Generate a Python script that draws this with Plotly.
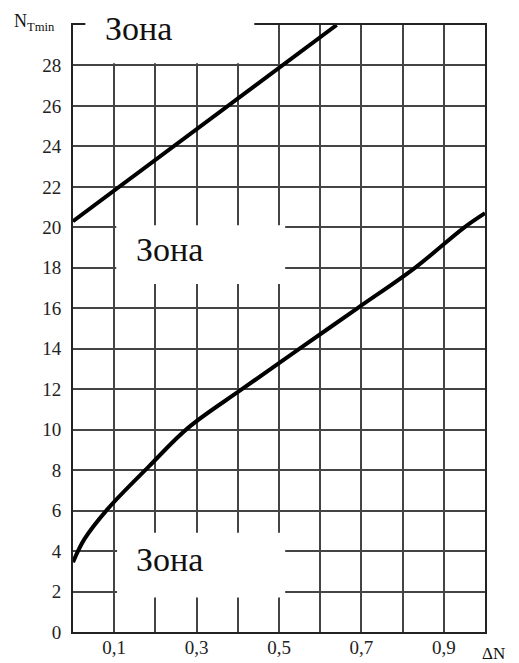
import plotly.graph_objects as go

# ---- data ----
upper_x = [0.0, 0.64]
upper_y = [20.3, 30.0]

lower_x = [0.0, 0.028, 0.085, 0.185, 0.28, 0.41, 0.55, 0.69, 0.83, 0.95, 1.0]
lower_y = [3.45, 4.6, 6.1, 8.2, 10.1, 12.0, 14.0, 16.0, 18.0, 20.0, 20.7]

x_tickvals = [0.1, 0.2, 0.3, 0.4, 0.5, 0.6, 0.7, 0.8, 0.9, 1.0]
x_ticktext = ["0,1", " ", "0,3", " ", "0,5", " ", "0,7", " ", "0,9", " "]
y_tickvals = list(range(0, 32, 2))
y_ticktext = [str(v) for v in range(0, 30, 2)] + [" "]

zone_label = "Зона"
y_title = "N<sub>Tmin</sub>"
x_title = "ΔN"

FONT = "Liberation Serif"

fig = go.Figure()
fig.add_trace(go.Scatter(x=upper_x, y=upper_y, mode="lines",
                         line=dict(color="black", width=4), showlegend=False))
fig.add_trace(go.Scatter(x=lower_x, y=lower_y, mode="lines",
                         line=dict(color="black", width=4, shape="spline", smoothing=1.0),
                         showlegend=False))

# white boxes behind the zone labels
fig.add_shape(type="rect", xref="x", yref="paper", x0=0.03, x1=0.44, y0=0.937, y1=1.06,
              fillcolor="white", line_width=0, layer="above")
fig.add_shape(type="rect", xref="x", yref="y", x0=0.105, x1=0.515, y0=17.2, y1=20.1,
              fillcolor="white", line_width=0, layer="above")
fig.add_shape(type="rect", xref="x", yref="y", x0=0.107, x1=0.515, y0=1.7, y1=4.9,
              fillcolor="white", line_width=0, layer="above")

common = dict(showarrow=False, xanchor="center", yanchor="middle")
fig.add_annotation(x=0.16, y=0.995, xref="x", yref="paper", text=zone_label,
                   font=dict(family=FONT, size=34, color="#111"), **common)
fig.add_annotation(x=0.233, y=18.9, xref="x", yref="y", text=zone_label,
                   font=dict(family=FONT, size=34, color="#111"), **common)
fig.add_annotation(x=0.233, y=3.6, xref="x", yref="y", text=zone_label,
                   font=dict(family=FONT, size=34, color="#111"), **common)
fig.add_annotation(x=-0.148, y=1.027, xref="paper", yref="paper", text=y_title,
                   showarrow=False, xanchor="left", yanchor="top",
                   font=dict(family=FONT, size=18, color="#111"))
fig.add_annotation(x=0.989, y=-0.035, xref="paper", yref="paper", text=x_title,
                   showarrow=False, xanchor="left", yanchor="middle",
                   font=dict(family=FONT, size=17, color="#111"))

fig.update_xaxes(range=[0, 1], tickvals=x_tickvals, ticktext=x_ticktext,
                 showgrid=True, gridcolor="#444", gridwidth=1.6,
                 showline=True, linecolor="#222", linewidth=2, mirror=True,
                 zeroline=False, ticks="", automargin=False, ticklabelstandoff=-3,
                 tickfont=dict(family=FONT, size=19, color="#222"))
fig.update_yaxes(range=[0, 30], tickvals=y_tickvals, ticktext=y_ticktext,
                 showgrid=True, gridcolor="#444", gridwidth=1.6,
                 showline=True, linecolor="#222", linewidth=2, mirror=True,
                 zeroline=False, ticks="outside", ticklen=6, tickcolor="rgba(0,0,0,0)",
                 automargin=False,
                 tickfont=dict(family=FONT, size=19, color="#222"))

# page body has an 8px margin, so the figure is a little smaller and shifted
fig.update_layout(width=511, height=655, margin=dict(l=65, r=34, t=17, b=31),
                  plot_bgcolor="white", paper_bgcolor="white", showlegend=False)

fig.write_html("out.html")
